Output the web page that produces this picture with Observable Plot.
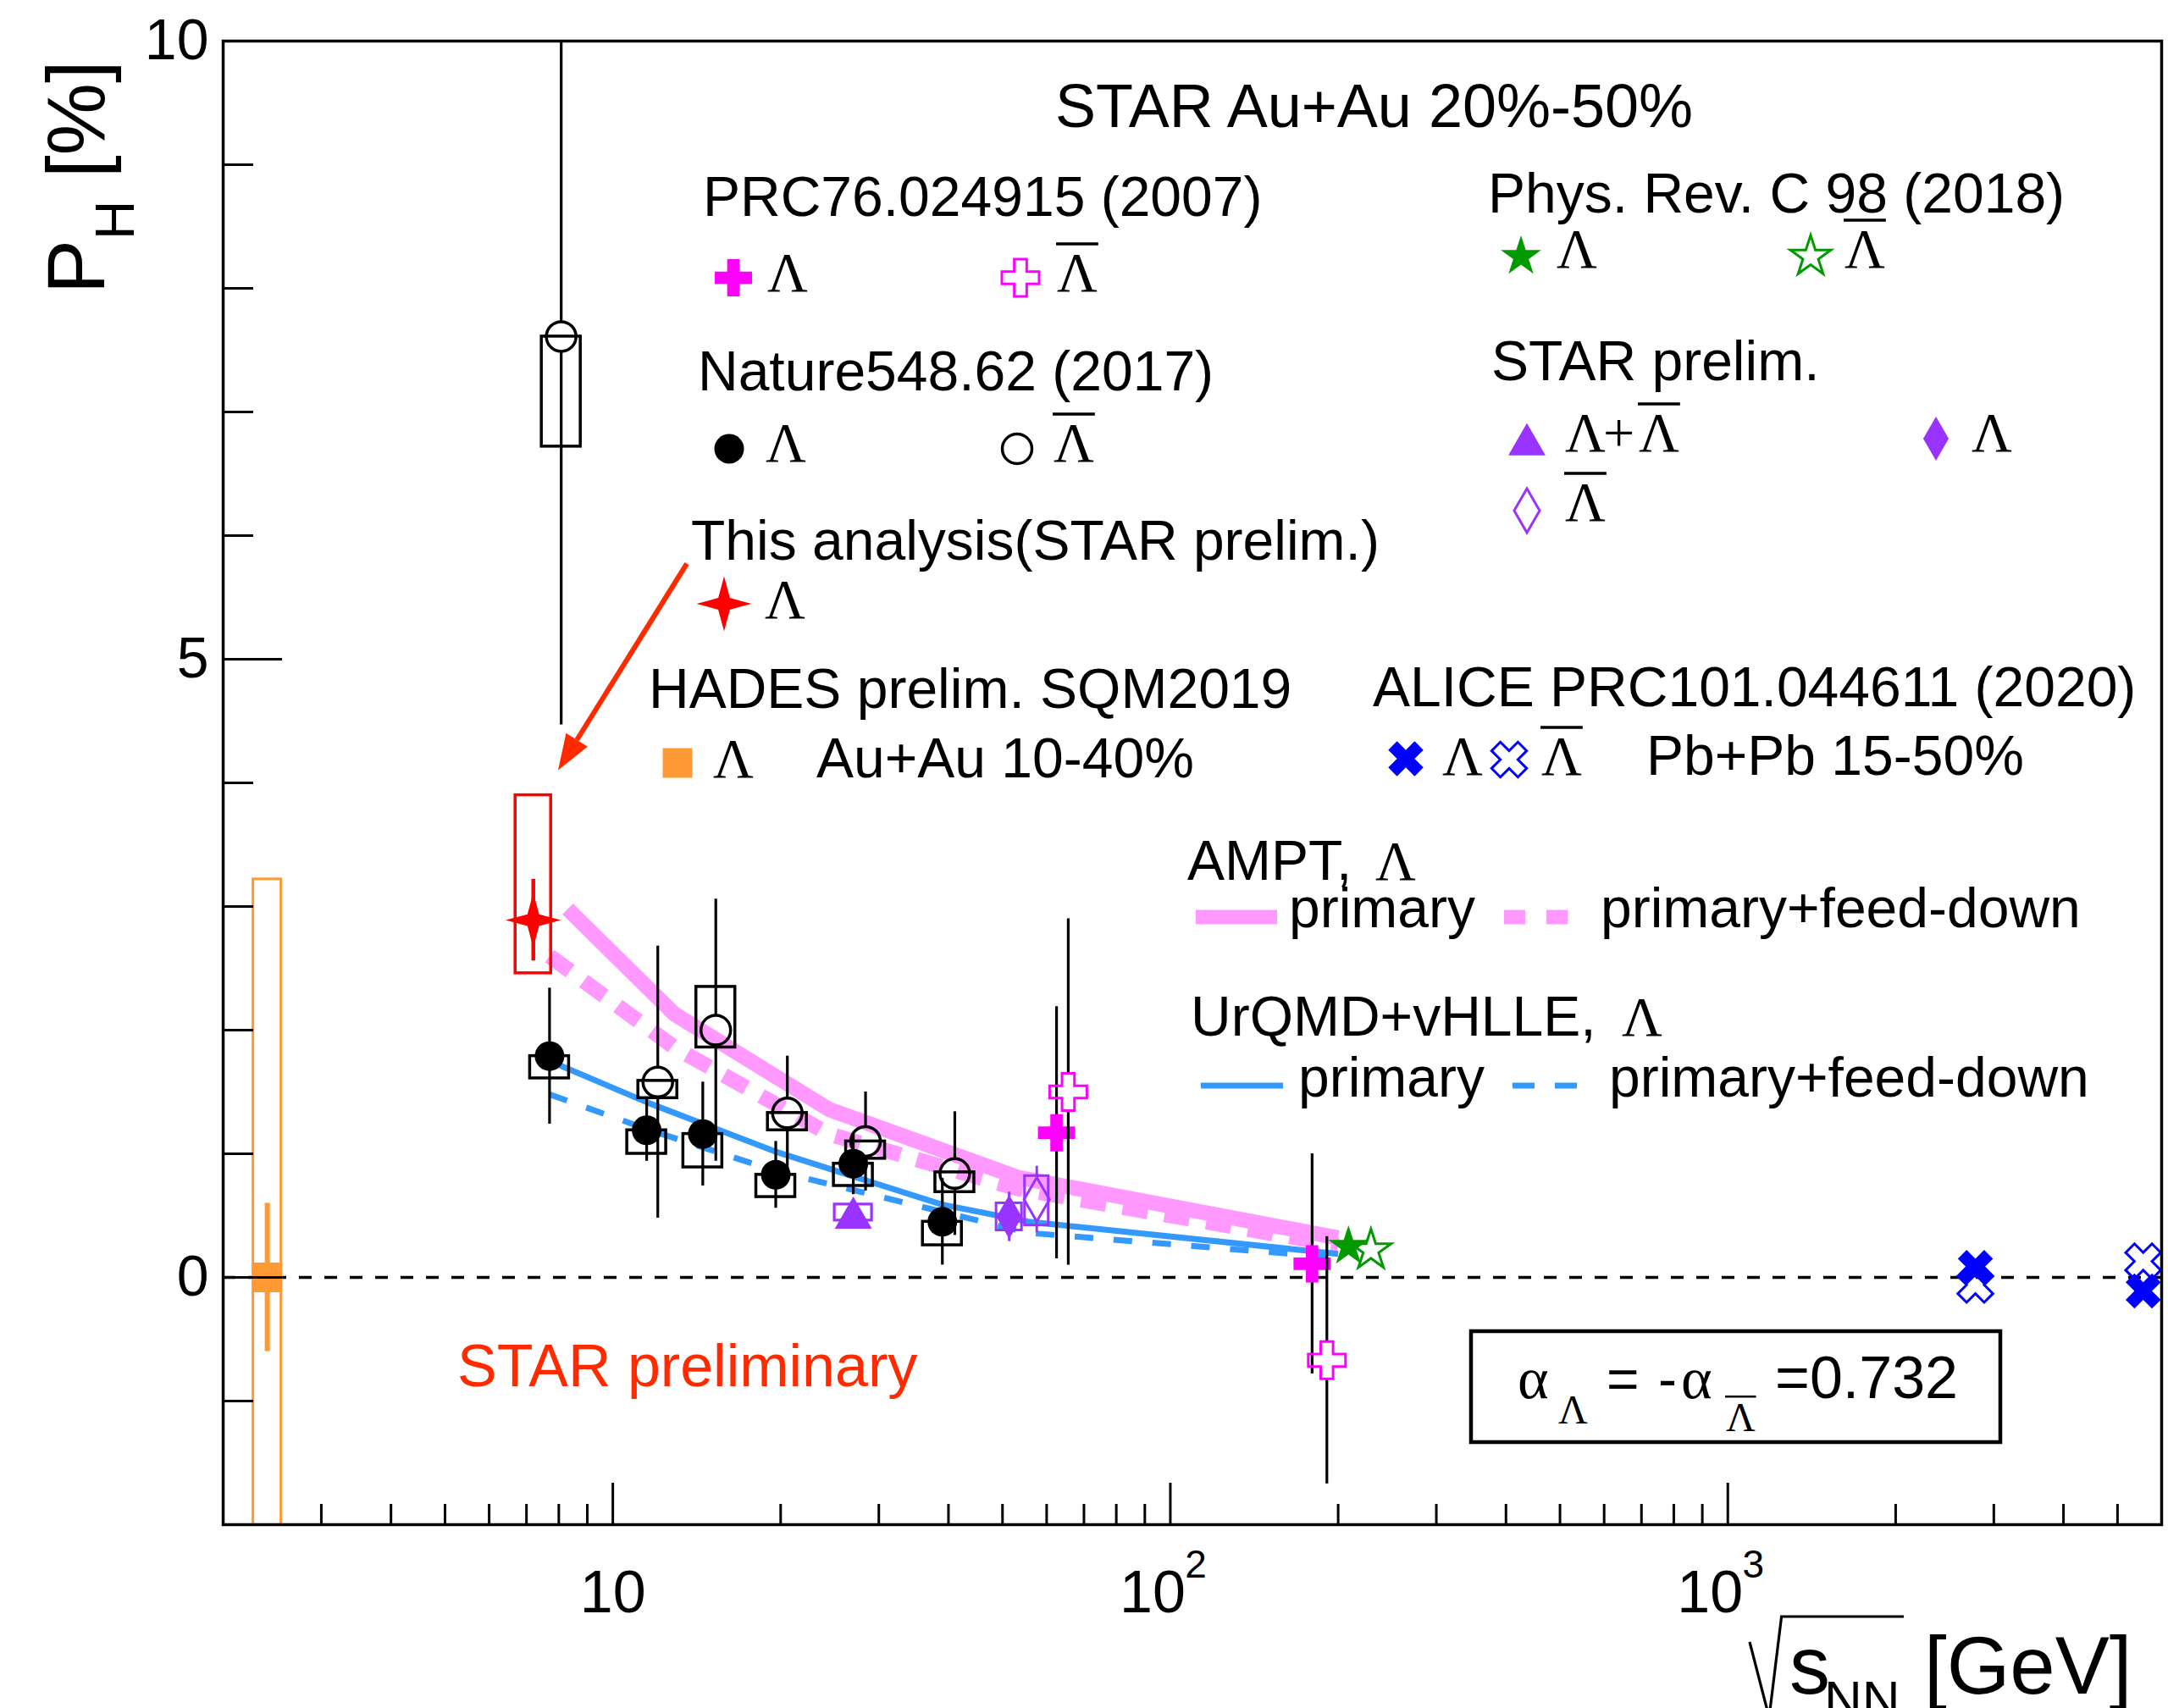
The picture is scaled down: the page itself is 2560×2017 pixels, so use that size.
<!DOCTYPE html>
<html><head><meta charset="utf-8">
<script src="https://cdn.jsdelivr.net/npm/d3@7"></script>
<script src="https://cdn.jsdelivr.net/npm/@observablehq/plot@0.6"></script>
<style>html,body{margin:0;padding:0;background:#fff;} svg{display:block;}</style>
</head><body><div id="chart"></div>
<script>
// ---------------- data ----------------
// Nature 548, 62 (2017): Lambda (filled circles)
const natLamE    = [7.7, 11.5, 14.5, 19.6, 27, 39];
const natLamP    = [1.79, 1.19, 1.16, 0.83, 0.92, 0.45];
const natLamStat = [0.55, 0.25, 0.42, 0.27, 0.25, 0.35];
const natLamLo   = [1.61, 1.00, 0.89, 0.65, 0.74, 0.26];
const natLamHi   = [1.79, 1.19, 1.16, 0.83, 0.92, 0.45];
// Nature 548, 62 (2017): anti-Lambda (open circles, shifted in energy)
const natBarE    = [8.08, 12.04, 15.3, 20.56, 28.4, 41.06];
const natBarP    = [7.61, 1.58, 2.00, 1.33, 1.10, 0.84];
const natBarStat = [3.14, 1.10, 1.06, 0.46, 0.40, 0.50];
const natBarLo   = [6.72, 1.45, 1.86, 1.19, 0.96, 0.69];
const natBarHi   = [7.61, 1.59, 2.35, 1.33, 1.10, 0.85];
// This analysis (STAR prelim.)
const thisE = [7.2], thisP = [2.89], thisStat = [0.33], thisLo = [2.46], thisHi = [3.90];
// HADES prelim. SQM2019
const hadesE = [2.4], hadesP = [0.0], hadesStat = [0.6], hadesLo = [-3.22], hadesHi = [3.22];
// PRC76.024915 (2007)
const prcLamE = [62.5, 179.6], prcLamP = [1.17, 0.11], prcLamStat = [1.02, 0.89];
const prcBarE = [65.6, 190.9], prcBarP = [1.50, -0.67], prcBarStat = [1.40, 1.00];
// Phys. Rev. C 98 (2018)
const prc98LamE = [208.7], prc98LamP = [0.25];
const prc98BarE = [229], prc98BarP = [0.22];
// STAR prelim.
const spSumE = [27], spSumP = [0.48], spSumLo = [0.46], spSumHi = [0.59];
const spLamE = [51.4], spLamP = [0.49], spLamStat = [0.20], spLamLo = [0.38], spLamHi = [0.60];
const spBarE = [57.6], spBarP = [0.63], spBarStat = [0.27], spBarLo = [0.42], spBarHi = [0.82];
// ALICE PRC101.044611 (2020)
const aliLamE = [2780, 5560], aliLamP = [0.08, -0.11];
const aliBarE = [2780, 5560], aliBarP = [-0.06, 0.13];
// Models
const amptPrimE = [8.3, 12.9, 24.4, 53.2, 200];
const amptPrimP = [2.98, 2.13, 1.36, 0.81, 0.32];
const amptFdE   = [7.7, 12.9, 24.4, 53.0, 200];
const amptFdP   = [2.60, 1.86, 1.16, 0.72, 0.26];
const urqPrimE  = [7.8, 11.6, 19.5, 38.9, 55.7, 200];
const urqPrimP  = [1.74, 1.41, 1.02, 0.59, 0.45, 0.19];
const urqFdE    = [7.7, 11.5, 19.6, 39, 55.7, 200];
const urqFdP    = [1.48, 1.20, 0.86, 0.53, 0.36, 0.16];
// axis ticks
const yMajor = [0, 5, 10];
const yMinor = [-1, 1, 2, 3, 4, 6, 7, 8, 9];
const xMajor = [10, 100, 1000];
const xMinor = [3,4,5,6,7,8,9,20,30,40,50,60,70,80,90,200,300,400,500,600,700,800,900,2000,3000,4000,5000];
const xLabelBase = ["10", "10", "10"];
const xLabelExp  = ["", "2", "3"];
// annotation arrow (data coordinates)
const arrowFrom = [13.6, 5.77], arrowTo = [7.99, 4.10];

// ---------------- helpers ----------------
const SANS = "'Liberation Sans', Arial, Helvetica, sans-serif";
const SERIF = "'Liberation Serif', 'Times New Roman', serif";
const MAG="#ff00ff", PINK="#ff99ff", BLUEM="#3399ff", PURP="#9933ff", GREEN="#009900",
      ORANGE="#ff9933", RED="#ff0000", ABLUE="#0000ff", STARRED="#ff2a00";
const W = 2560, H = 2017, ML = 263, MR = 8, MT = 48, MB = 217;
const FW = W - ML - MR, FH = H - MT - MB;
const X0 = 2, X1 = 6000;

function pts(E, P, s, lo, hi) {
  return E.map((e, i) => ({E: e, P: P[i], s: s ? s[i] : 0, lo: lo ? lo[i] : null, hi: hi ? hi[i] : null}));
}
const boxF = w => Math.pow(10, (w / 2) * Math.log10(X1 / X0) / FW);
function errMarks(d, color, gap, sw) {
  const e = d.filter(p => p.s > 0);
  return [
    Plot.ruleX(e, {x: "E", y1: p => p.P + p.s, y2: "P", insetBottom: gap, stroke: color, strokeWidth: sw, clip: true}),
    Plot.ruleX(e, {x: "E", y1: "P", y2: p => p.P - p.s, insetTop: gap, stroke: color, strokeWidth: sw, clip: true})
  ];
}
function boxMarks(d, color, w, sw) {
  const f = boxF(w);
  return Plot.rect(d.filter(p => p.lo != null), {x1: p => p.E / f, x2: p => p.E * f, y1: "lo", y2: "hi",
    fill: "none", stroke: color, strokeWidth: sw, clip: true});
}
// 4-point star with concave sides
const star4 = {draw(ctx, size) {
  const R = Math.sqrt(size / Math.PI), ri = R * 0.3, k = R * 0.12;
  const tips = [[0, -R], [R, 0], [0, R], [-R, 0]];
  ctx.moveTo(0, -R);
  for (let i = 0; i < 4; i++) {
    const [x1, y1] = tips[i], [x2, y2] = tips[(i + 1) % 4];
    const mx = (x1 + x2) / 2, my = (y1 + y2) / 2, ml = Math.hypot(mx, my);
    const ix = mx / ml * ri, iy = my / ml * ri;
    ctx.lineTo(x1 * 0.55 + ix * 0.45 + (mx / ml) * k * 0, y1 * 0.55 + iy * 0.45);
    ctx.lineTo(ix, iy);
    ctx.lineTo(x2 * 0.55 + ix * 0.45, y2 * 0.55 + iy * 0.45);
    ctx.lineTo(x2, y2);
  }
  ctx.closePath();
}};
const xcross = {draw(ctx, size) {
  const a = Math.sqrt(size / 5) / 2;
  const p = [[-3*a,-a],[-a,-a],[-a,-3*a],[a,-3*a],[a,-a],[3*a,-a],[3*a,a],[a,a],[a,3*a],[-a,3*a],[-a,a],[-3*a,a]];
  const c = Math.SQRT1_2;
  p.forEach(([x, y], i) => { const X = (x - y) * c, Y = (x + y) * c; i ? ctx.lineTo(X, Y) : ctx.moveTo(X, Y); });
  ctx.closePath();
}};

const nLam = pts(natLamE, natLamP, natLamStat, natLamLo, natLamHi);
const nBar = pts(natBarE, natBarP, natBarStat, natBarLo, natBarHi);
const tA = pts(thisE, thisP, thisStat, thisLo, thisHi);
const hA = pts(hadesE, hadesP, hadesStat, hadesLo, hadesHi);
const pLam = pts(prcLamE, prcLamP, prcLamStat);
const pBar = pts(prcBarE, prcBarP, prcBarStat);
const p98L = pts(prc98LamE, prc98LamP);
const p98B = pts(prc98BarE, prc98BarP);
const sSum = pts(spSumE, spSumP, null, spSumLo, spSumHi);
const sLam = pts(spLamE, spLamP, spLamStat, spLamLo, spLamHi);
const sBar = pts(spBarE, spBarP, spBarStat, spBarLo, spBarHi);
const aLam = pts(aliLamE, aliLamP);
const aBar = pts(aliBarE, aliBarP);
const curve = (E, P) => E.map((e, i) => ({E: e, P: P[i]}));

const R_CIRC = 17.5, R_CROSS = 18.5, R_STAR = 15, R_TRI = 16.3, R_DIA = 15.8, R_SQ = 19.75, R_S4 = 32.5;

const chart = Plot.plot({
  width: W, height: H,
  marginLeft: ML, marginRight: MR, marginTop: MT, marginBottom: MB,
  x: {type: "log", domain: [X0, X1], axis: null},
  y: {domain: [-2, 10], axis: null},
  style: {fontFamily: SANS, background: "white", color: "black"},
  marks: [
    Plot.ruleY([0], {stroke: "black", strokeWidth: 3.5, strokeDasharray: "15,15"}),
    // model curves
    Plot.line(curve(amptPrimE, amptPrimP), {x: "E", y: "P", stroke: PINK, strokeWidth: 18, strokeLinecap: "butt", strokeLinejoin: "miter"}),
    Plot.line(curve(amptFdE, amptFdP), {x: "E", y: "P", stroke: PINK, strokeWidth: 18, strokeDasharray: "30,20", strokeLinecap: "butt", strokeLinejoin: "miter"}),
    Plot.line(curve(urqPrimE, urqPrimP), {x: "E", y: "P", stroke: BLUEM, strokeWidth: 7, strokeLinecap: "butt"}),
    Plot.line(curve(urqFdE, urqFdP), {x: "E", y: "P", stroke: BLUEM, strokeWidth: 7, strokeDasharray: "22,24", strokeLinecap: "butt"}),
    // HADES
    boxMarks(hA, ORANGE, 33, 3),
    ...errMarks(hA, ORANGE, 0, 6),
    Plot.dot(hA, {x: "E", y: "P", symbol: d3.symbolSquare, r: R_SQ, fill: ORANGE, stroke: "none"}),
    // Nature anti-Lambda
    ...errMarks(nBar, "black", R_CIRC, 3.2),
    boxMarks(nBar, "black", 46, 3.5),
    Plot.dot(nBar, {x: "E", y: "P", r: R_CIRC, fill: "none", stroke: "black", strokeWidth: 3.5}),
    // Nature Lambda
    ...errMarks(nLam, "black", 0, 3.2),
    boxMarks(nLam, "black", 46, 3.5),
    Plot.dot(nLam, {x: "E", y: "P", r: R_CIRC, fill: "black", stroke: "none"}),
    // This analysis
    boxMarks(tA, RED, 42, 3.5),
    ...errMarks(tA, RED, 0, 4.5),
    Plot.dot(tA, {x: "E", y: "P", symbol: star4, r: R_S4, fill: RED, stroke: "none"}),
    // STAR prelim.
    boxMarks(sSum, PURP, 44, 3.2),
    Plot.dot(sSum, {x: "E", y: "P", symbol: d3.symbolTriangle, r: R_TRI, fill: PURP, stroke: "none"}),
    ...errMarks(sLam, PURP, 0, 3),
    boxMarks(sLam, PURP, 30, 3),
    Plot.dot(sLam, {x: "E", y: "P", symbol: d3.symbolDiamond, r: R_DIA, fill: PURP, stroke: "none"}),
    ...errMarks(sBar, PURP, 26, 3),
    boxMarks(sBar, PURP, 28, 3),
    Plot.dot(sBar, {x: "E", y: "P", symbol: d3.symbolDiamond, r: R_DIA, fill: "none", stroke: PURP, strokeWidth: 3}),
    // PRC76
    ...errMarks(pLam, "black", 0, 3.2),
    Plot.dot(pLam, {x: "E", y: "P", symbol: d3.symbolCross, r: R_CROSS, fill: MAG, stroke: "none"}),
    ...errMarks(pBar, "black", 22, 3.2),
    Plot.dot(pBar, {x: "E", y: "P", symbol: d3.symbolCross, r: R_CROSS, fill: "none", stroke: MAG, strokeWidth: 3}),
    // PRC98
    Plot.dot(p98L, {x: "E", y: "P", symbol: d3.symbolStar, r: R_STAR, fill: GREEN, stroke: "none"}),
    Plot.dot(p98B, {x: "E", y: "P", symbol: d3.symbolStar, r: R_STAR, fill: "none", stroke: GREEN, strokeWidth: 3}),
    // ALICE
    Plot.dot(aBar, {x: "E", y: "P", symbol: xcross, r: R_CROSS, fill: "none", stroke: ABLUE, strokeWidth: 3}),
    Plot.dot(aLam, {x: "E", y: "P", symbol: xcross, r: R_CROSS, fill: ABLUE, stroke: "none"}),
    // ticks
    Plot.tickX(xMinor, {x: d => d, stroke: "black", strokeWidth: 3, insetTop: FH - 24}),
    Plot.tickX(xMajor, {x: d => d, stroke: "black", strokeWidth: 3, insetTop: FH - 49}),
    Plot.tickY(yMinor, {y: d => d, stroke: "black", strokeWidth: 3, insetRight: FW - 36}),
    Plot.tickY(yMajor, {y: d => d, stroke: "black", strokeWidth: 3, insetRight: FW - 70}),
    // tick labels
    Plot.text(yMajor, {y: d => d, text: d => String(d), frameAnchor: "left", textAnchor: "end", lineAnchor: "middle", dx: -17, fontSize: 68}),
    Plot.text([0], {x: () => xMajor[0], text: () => xLabelBase[0], frameAnchor: "bottom", lineAnchor: "bottom", dy: 103, fontSize: 70}),
    Plot.text([1, 2], {x: i => xMajor[i], text: i => xLabelBase[i], frameAnchor: "bottom", lineAnchor: "bottom", dy: 103, dx: -21, fontSize: 70}),
    Plot.text([1, 2], {x: i => xMajor[i], text: i => xLabelExp[i], frameAnchor: "bottom", lineAnchor: "bottom", dy: 62, dx: 30, fontSize: 46}),
    Plot.frame({stroke: "black", strokeWidth: 3.5})
  ]
});
document.getElementById("chart").appendChild(chart);

// ---------------- annotations / legend ----------------
const svg = d3.select(chart);
const g = svg.append("g").attr("text-anchor", "start");
function T(x, y, s, size = 66, fam = SANS, fill = "black") {
  return g.append("text").attr("x", x).attr("y", y).attr("font-family", fam).attr("font-size", size)
    .attr("fill", fill).attr("text-anchor", "start").text(s);
}
function bar(x1, x2, y, sw = 3.5) {
  g.append("line").attr("x1", x1).attr("x2", x2).attr("y1", y).attr("y2", y).attr("stroke", "black").attr("stroke-width", sw);
}
function L(x, y, size = 66) { return T(x, y, "Λ", size, SERIF); }
function LB(x, y, size = 66) { L(x, y, size); bar(x - 1, x + size * 0.74, y - size * 0.85, size * 0.053); }
function sym(x, y, type, r, fill, stroke = "none", sw = 0) {
  if (type === "circle") {
    g.append("circle").attr("cx", x).attr("cy", y).attr("r", r).attr("fill", fill).attr("stroke", stroke).attr("stroke-width", sw);
  } else {
    g.append("path").attr("transform", `translate(${x},${y})`).attr("d", d3.symbol(type, Math.PI * r * r)())
      .attr("fill", fill).attr("stroke", stroke).attr("stroke-width", sw);
  }
}

T(1246, 150, "STAR Au+Au 20%-50%", 72);
T(830, 255, "PRC76.024915 (2007)");
sym(866, 328, d3.symbolCross, R_CROSS, MAG);
L(906, 344);
sym(1205, 328, d3.symbolCross, R_CROSS, "none", MAG, 3);
LB(1248, 344);
T(824, 461, "Nature548.62 (2017)");
sym(861, 530, "circle", R_CIRC, "black");
L(904, 545);
sym(1201, 530, "circle", R_CIRC, "none", "black", 3.5);
LB(1244, 545);
T(816, 661, "This analysis(STAR prelim.)");
sym(855, 713, star4, R_S4, RED);
L(903, 730);
T(766, 836, "HADES prelim. SQM2019");
sym(800, 901, d3.symbolSquare, R_SQ, ORANGE);
L(842, 918);
T(964, 918, "Au+Au 10-40%");

T(1757, 251, "Phys. Rev. C 98 (2018)");
sym(1796, 303, d3.symbolStar, R_STAR, GREEN);
L(1838, 316);
sym(2138, 303, d3.symbolStar, R_STAR, "none", GREEN, 3);
LB(2178, 316);
T(1761, 449, "STAR prelim.");
sym(1803, 525, d3.symbolTriangle, R_TRI, PURP);
L(1848, 533); T(1893, 533, "+", 66, SERIF); LB(1935, 533);
sym(2286, 518, d3.symbolDiamond, R_DIA, PURP);
L(2328, 533);
sym(1803, 603, d3.symbolDiamond, R_DIA, "none", PURP, 3);
LB(1848, 615);
T(1621, 834, "ALICE PRC101.044611 (2020)");
sym(1660, 896, xcross, R_CROSS, ABLUE);
L(1703, 915);
sym(1782, 897, xcross, R_CROSS, "none", ABLUE, 3);
LB(1820, 915);
T(1944, 915, "Pb+Pb 15-50%");

T(1402, 1039, "AMPT,"); L(1624, 1039);
g.append("line").attr("x1", 1412).attr("x2", 1508).attr("y1", 1083).attr("y2", 1083).attr("stroke", PINK).attr("stroke-width", 17);
T(1522, 1095, "primary");
g.append("line").attr("x1", 1776).attr("x2", 1852).attr("y1", 1083).attr("y2", 1083).attr("stroke", PINK).attr("stroke-width", 17).attr("stroke-dasharray", "25,25");
T(1890, 1095, "primary+feed-down");
T(1406, 1223, "UrQMD+vHLLE,"); L(1915, 1223);
g.append("line").attr("x1", 1418).attr("x2", 1515).attr("y1", 1282).attr("y2", 1282).attr("stroke", BLUEM).attr("stroke-width", 7);
T(1533, 1295, "primary");
g.append("line").attr("x1", 1786).attr("x2", 1862).attr("y1", 1282).attr("y2", 1282).attr("stroke", BLUEM).attr("stroke-width", 7).attr("stroke-dasharray", "26,24");
T(1900, 1295, "primary+feed-down");

// STAR preliminary label
T(540, 1637, "STAR preliminary", 70, SANS, STARRED);

// alpha box
g.append("rect").attr("x", 1737).attr("y", 1572).attr("width", 625).attr("height", 131).attr("fill", "none").attr("stroke", "black").attr("stroke-width", 4.5);
T(1792, 1651, "α", 70, SERIF);
L(1840, 1681, 48);
T(1897, 1651, "=", 66);
T(1958, 1651, "-", 66);
T(1985, 1651, "α", 70, SERIF);
LB(2038, 1690, 48);
T(2096, 1651, "=0.732", 70);

// arrow
const xs = chart.scale("x"), ys = chart.scale("y");
{
  const ax1 = xs.apply(arrowFrom[0]), ay1 = ys.apply(arrowFrom[1]);
  const ax2 = xs.apply(arrowTo[0]), ay2 = ys.apply(arrowTo[1]);
  const dx = ax2 - ax1, dy = ay2 - ay1, len = Math.hypot(dx, dy), ux = dx / len, uy = dy / len;
  const hl = 42, hw = 15;
  const bx = ax2 - ux * hl, by = ay2 - uy * hl;
  g.append("line").attr("x1", ax1).attr("y1", ay1).attr("x2", bx).attr("y2", by).attr("stroke", STARRED).attr("stroke-width", 6);
  g.append("path").attr("d", `M${ax2},${ay2}L${bx - uy * hw},${by + ux * hw}L${bx + uy * hw},${by - ux * hw}Z`).attr("fill", STARRED);
}

// y title
{
  const yt = g.append("text").attr("transform", "translate(123,347) rotate(-90)").attr("font-family", SANS)
    .attr("font-size", 96).attr("text-anchor", "start");
  yt.append("tspan").text("P");
  yt.append("tspan").attr("font-size", 64).attr("dy", 35).text("H");
  yt.append("tspan").attr("dy", -35).text(" [%]");
}
// x title
g.append("path").attr("d", "M2066,1939 L2089,2028 L2103.6,1909 L2248,1909").attr("fill", "none").attr("stroke", "black").attr("stroke-width", 3.2);
T(2113, 2000, "s", 96);
T(2154, 2028, "NN", 62);
T(2272, 2000, "[GeV]", 96);
</script></body></html>
